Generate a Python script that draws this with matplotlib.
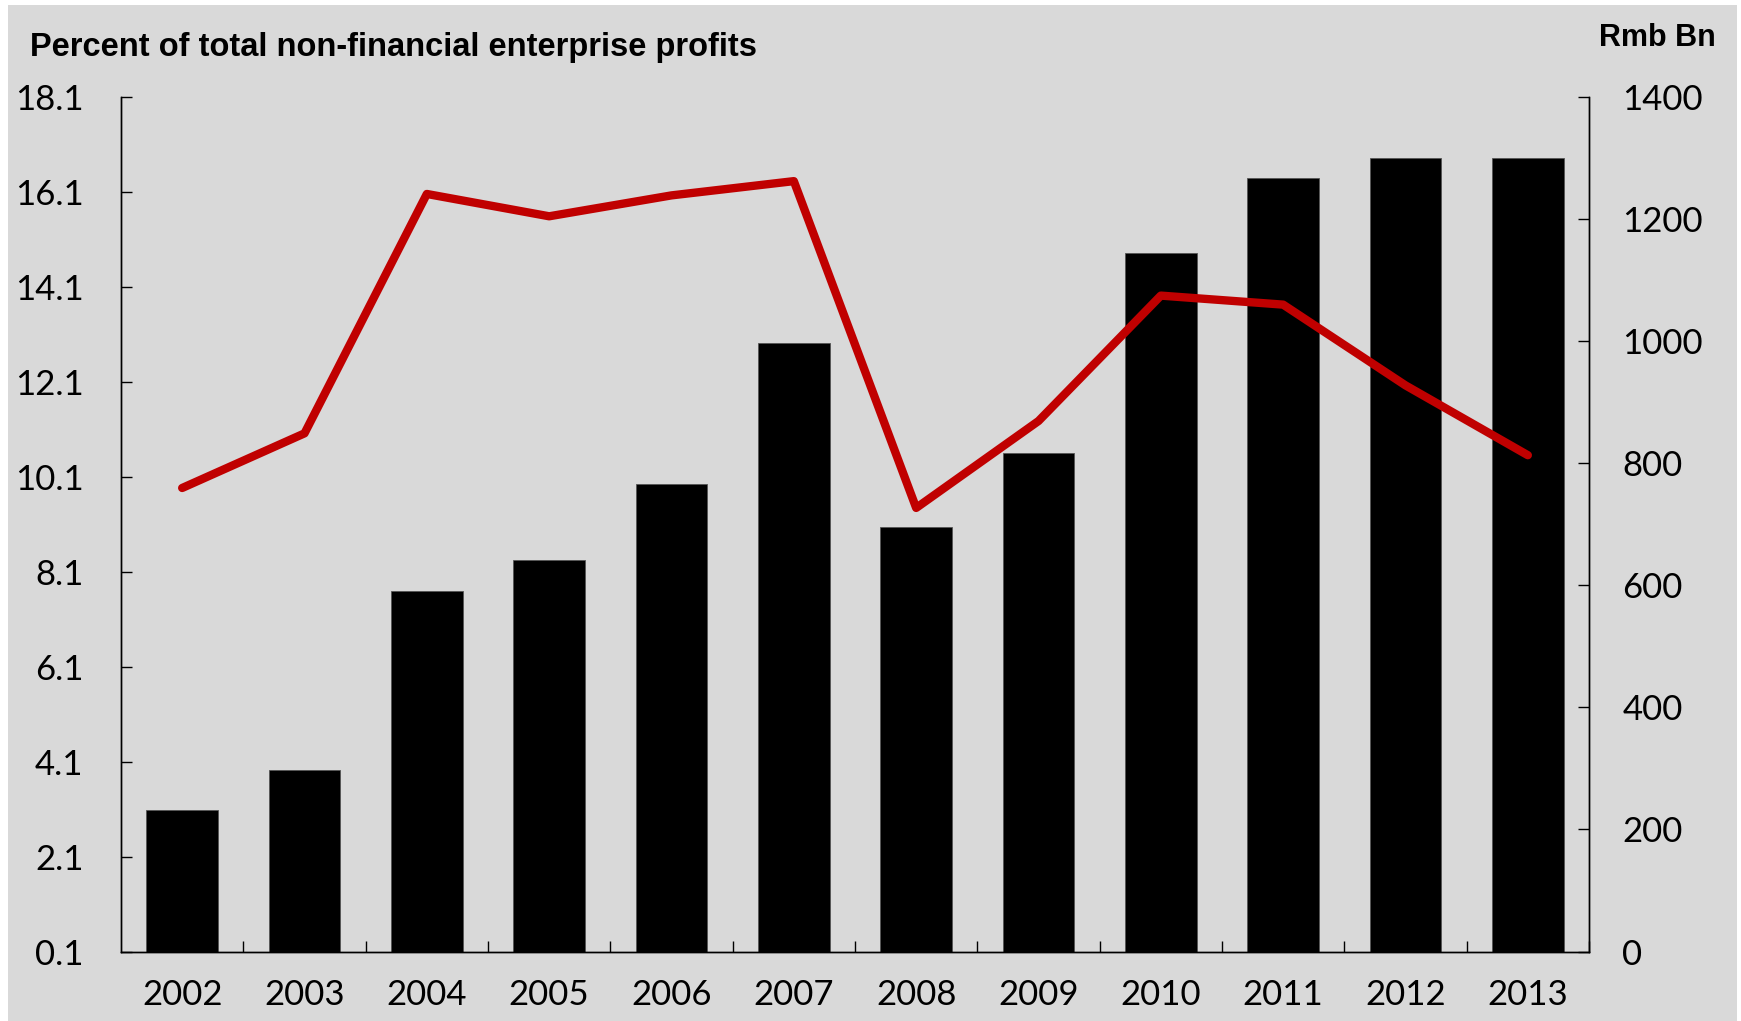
import matplotlib
matplotlib.use("Agg")
import matplotlib.pyplot as plt
from matplotlib.patches import Rectangle
from matplotlib.ticker import FixedLocator

# Данные: прибыль (млрд юаней) и доля в прибыли нефинансовых предприятий (%)
years = ['2002', '2003', '2004', '2005', '2006', '2007',
         '2008', '2009', '2010', '2011', '2012', '2013']
profits_rmb = [232, 297, 590, 642, 765, 997, 696, 816, 1144, 1266, 1300, 1300]
share_pct = [9.86, 11.01, 16.05, 15.58, 16.02, 16.32,
             9.44, 11.27, 13.91, 13.72, 12.02, 10.55]

left_ticks = [0.1, 2.1, 4.1, 6.1, 8.1, 10.1, 12.1, 14.1, 16.1, 18.1]
right_ticks = [0, 200, 400, 600, 800, 1000, 1200, 1400]

bg = '#d9d9d9'
red = '#c00000'
tick_font = ['Lato', 'DejaVu Sans']
title_font = ['Liberation Sans', 'DejaVu Sans']

fig = plt.figure(figsize=(17.41, 10.21), dpi=100)
fig.patch.set_facecolor('white')
# серая подложка с узкой белой рамкой
fig.patches.append(Rectangle((8 / 1741, 0), 1729 / 1741, 1016 / 1021,
                             transform=fig.transFigure, facecolor=bg,
                             edgecolor='none', zorder=-10))

ax = fig.add_axes([0.0695, 0.068, 0.8432, 0.8374])
ax.set_facecolor('none')
x = list(range(len(years)))

# Столбцы - правая ось
ax.bar(x, profits_rmb, width=0.585, color='black', edgecolor='#555555',
       linewidth=0.6, zorder=2)
ax.set_xlim(-0.5, len(years) - 0.5)
ax.set_ylim(0, 1400)

# Линия - левая ось
ax2 = ax.twinx()
ax2.plot(x, share_pct, color=red, linewidth=6, solid_capstyle='round',
         solid_joinstyle='round', zorder=3)
ax2.set_ylim(0.1, 18.1)

# twinx переставляет оси, поэтому меняем стороны уже после него
ax.yaxis.tick_right()
ax.yaxis.set_label_position('right')
ax2.yaxis.tick_left()
ax2.yaxis.set_label_position('left')

ax.set_yticks(right_ticks)
ax.set_yticklabels([str(v) for v in right_ticks])
ax2.set_yticks(left_ticks)
ax2.set_yticklabels(['%.1f' % v for v in left_ticks])

ax.set_xticks(x)
ax.set_xticklabels(years)
ax.xaxis.set_minor_locator(FixedLocator([i + 0.5 for i in range(len(years))]))
ax.tick_params(axis='x', which='major', length=0, pad=20, labelsize=25)
ax.tick_params(axis='x', which='minor', direction='in', length=8, width=1.0)
ax.tick_params(axis='y', direction='in', length=8, width=1.0, pad=24,
               labelsize=25)
ax2.tick_params(axis='y', direction='in', length=8, width=1.0, pad=27,
                labelsize=25)

for a in (ax, ax2):
    a.spines['top'].set_visible(False)
    for s in ('left', 'right', 'bottom'):
        a.spines[s].set_linewidth(1.0)
        a.spines[s].set_color('black')
    for lab in a.get_xticklabels() + a.get_yticklabels():
        lab.set_family(tick_font)

fig.text(30 / 1741, 1 - 47 / 1021, 'Percent of total non-financial enterprise profits',
         family=title_font, fontweight='bold', fontsize=23.5, ha='left', va='center')
fig.text(1716 / 1741, 1 - 38 / 1021, 'Rmb Bn', family=title_font,
         fontweight='bold', fontsize=22, ha='right', va='center')

fig.savefig('out.png', dpi=100, facecolor=fig.get_facecolor())
